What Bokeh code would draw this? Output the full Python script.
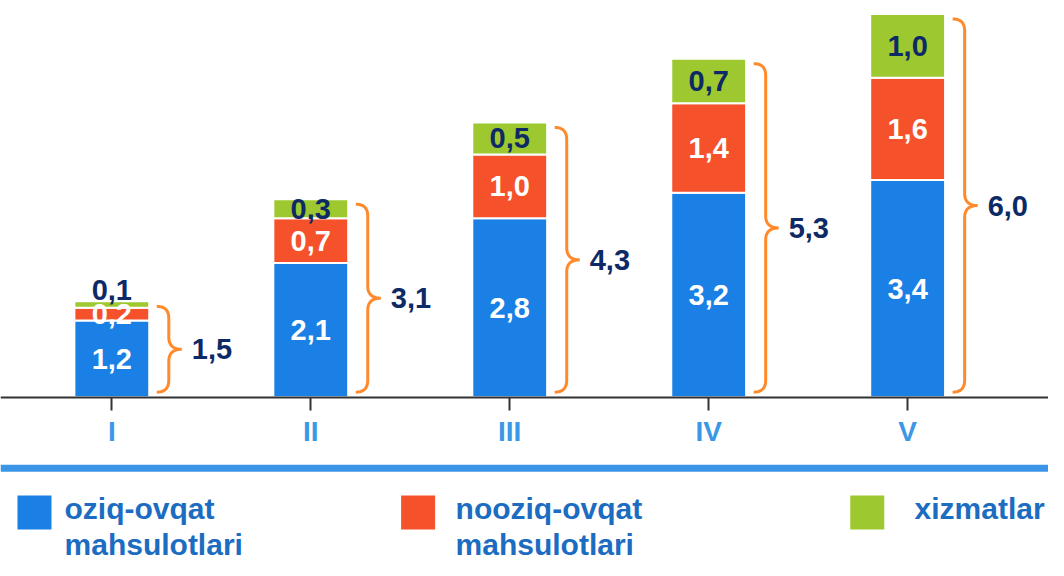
import numpy as np
from bokeh.plotting import figure
from bokeh.models import ColumnDataSource, Range1d, LinearAxis, FixedTicker, Span
from bokeh.core.properties import value
from bokeh.embed import file_html
from bokeh.resources import INLINE

# ---------------- data ----------------
categories = ["I", "II", "III", "IV", "V"]
food = [1.2, 2.1, 2.8, 3.2, 3.4]        # oziq-ovqat mahsulotlari
nonfood = [0.2, 0.7, 1.0, 1.4, 1.6]     # nooziq-ovqat mahsulotlari
services = [0.1, 0.3, 0.5, 0.7, 1.0]    # xizmatlar
totals = [1.5, 3.1, 4.3, 5.3, 6.0]
series_names = ["oziq-ovqat\n mahsulotlari", "nooziq-ovqat\nmahsulotlari", "xizmatlar"]
series_colors = ["#1a80e6", "#f5512b", "#9dc82f"]

# ---------------- layout constants ----------------
W, H = 1048, 560
SX, SY = W / 1064.0, H / 576.0   # reference-pixel -> figure-pixel scale
PX_X = 202.0 * SX   # pixels per category
PX_Y = 65.7 * SY    # pixels per unit
X0 = 113 * SX       # pixel x of first category
Y0 = 408 * SY       # pixel y (from top) of zero line

NAVY = "#0e2a66"
FONT = value("Liberation Sans")


def fx(px_ref):
    return (px_ref * SX - X0) / PX_X


def fy(py_ref):
    return (Y0 - py_ref * SY) / PX_Y


p = figure(width=W, height=H,
           x_range=Range1d(fx(0), fx(1064)), y_range=Range1d(fy(576), fy(0)),
           x_axis_type=None, y_axis_type=None,
           output_backend="svg", toolbar_location=None,
           min_border=0, outline_line_color=None)
p.background_fill_color = "white"

xs = list(range(len(categories)))

# ---------------- bars ----------------
src = ColumnDataSource(dict(x=xs, food=food, nonfood=nonfood, services=services))
p.vbar_stack(["food", "nonfood", "services"], x="x", width=76 * SX / PX_X,
             fill_color=series_colors, line_color="white", line_width=2,
             source=src)

# ---------------- segment labels ----------------
lab_x, lab_y, lab_t, lab_c = [], [], [], []
gap = 24 / PX_Y
for i in xs:
    bottom = 0.0
    prev = -1e9
    for vals, col in ((food, "white"), (nonfood, "white"), (services, NAVY)):
        v = vals[i]
        mid = bottom + v / 2
        y = max(mid, prev + gap)
        prev = y
        lab_x.append(i)
        lab_y.append(y)
        lab_t.append(f"{v:.1f}".replace(".", ","))
        lab_c.append(col)
        bottom += v
p.text(x=lab_x, y=lab_y, text=lab_t, text_color=lab_c,
       text_align="center", text_baseline="middle",
       text_font=FONT, text_font_style="bold", text_font_size="29px")


# ---------------- braces ----------------
def quad(p0, c, p1, n=14):
    t = np.linspace(0, 1, n)[:, None]
    return (1 - t) ** 2 * np.array(p0) + 2 * (1 - t) * t * np.array(c) + t ** 2 * np.array(p1)


bx, by = [], []
for i in xs:
    top = totals[i] - 5 / PX_Y
    bot = 5 / PX_Y
    mid = (top + bot) / 2
    hook = i + 45 / PX_X
    spine = i + 57 / PX_X
    cusp = i + 70 / PX_X
    r = 12 / PX_Y
    pts = np.vstack([
        quad((hook, top), (spine, top), (spine, top - r)),
        quad((spine, mid + r), (spine, mid), (cusp, mid)),
        quad((cusp, mid), (spine, mid), (spine, mid - r)),
        quad((spine, bot + r), (spine, bot), (hook, bot)),
    ])
    bx.append(pts[:, 0].tolist())
    by.append(pts[:, 1].tolist())
p.multi_line(xs=bx, ys=by, line_color="#ff8a2b", line_width=3)

# ---------------- total labels ----------------
p.text(x=[i + 80 / PX_X for i in xs], y=[t / 2 for t in totals],
       text=[f"{t:.1f}".replace(".", ",") for t in totals],
       text_color=NAVY, text_align="left", text_baseline="middle",
       text_font=FONT, text_font_style="bold", text_font_size="29px")

# ---------------- axis ----------------
axis = LinearAxis(ticker=FixedTicker(ticks=xs, minor_ticks=[]),
                  major_label_overrides={i: c for i, c in enumerate(categories)},
                  fixed_location=0)
axis.axis_line_color = "#333333"
axis.axis_line_width = 2
axis.major_tick_in = 0
axis.major_tick_out = 13
axis.major_tick_line_color = "#333333"
axis.major_tick_line_width = 2
axis.minor_tick_in = 0
axis.minor_tick_out = 0
axis.major_label_standoff = 6
axis.major_label_text_font = "Liberation Sans"
axis.major_label_text_font_style = "bold"
axis.major_label_text_font_size = "28px"
axis.major_label_text_color = "#3b98e6"
p.add_layout(axis, "below")

# ---------------- separator line ----------------
p.add_layout(Span(location=fy(481), dimension="width",
                  line_color="#3a95e6", line_width=7))

# ---------------- legend ----------------
p.scatter(x=[fx(34.5), fx(424), fx(880)], y=[fy(526.5)] * 3, marker="square",
          size=34, fill_color=series_colors, line_color=None)
p.text(x=[fx(65), fx(462), fx(928)], y=[fy(506)] * 3, text=series_names,
       text_color="#1c6cc2", text_align="left", text_baseline="top",
       text_font=FONT, text_font_style="bold", text_font_size="30px",
       text_line_height=1.07)

open("out.html", "w").write(file_html(p, INLINE))
